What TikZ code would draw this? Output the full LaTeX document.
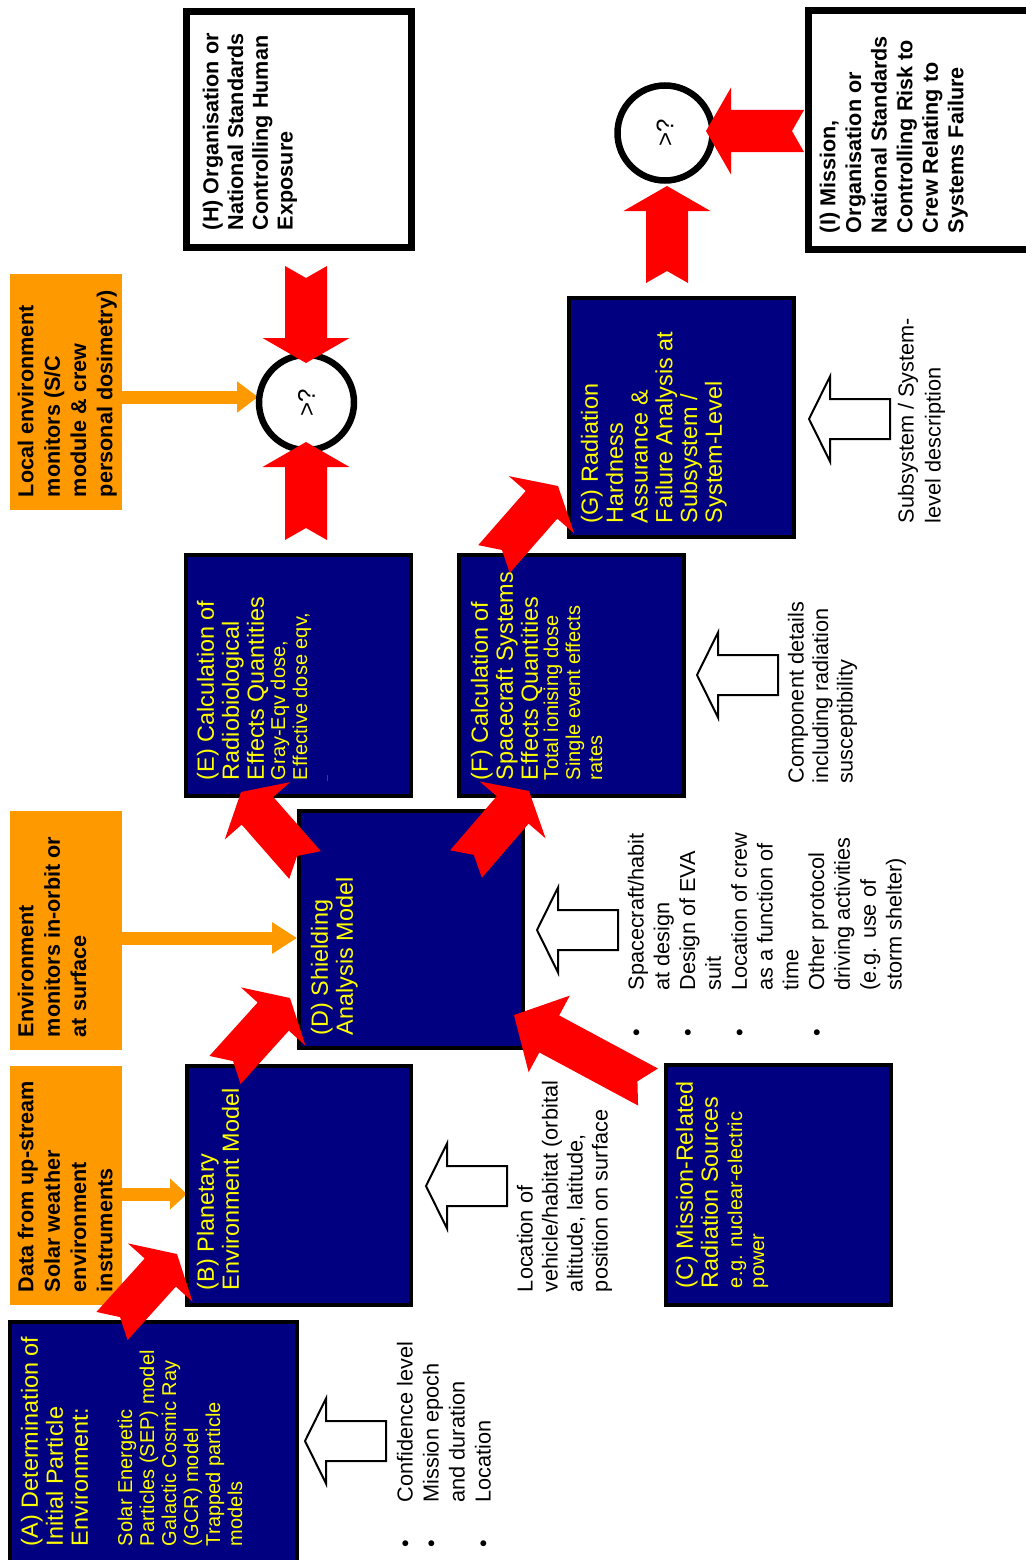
\documentclass[tikz,border=0pt]{standalone}
\usepackage{fontspec}
\setmainfont{Liberation Sans}
\usetikzlibrary{calc,arrows.meta}
\definecolor{navy}{RGB}{0,0,128}
\definecolor{amber}{RGB}{255,153,0}
\definecolor{ylw}{RGB}{255,255,0}
\definecolor{arrowred}{RGB}{255,0,0}
% notched block arrow: #1 tail centre, #2 tip, #3 head depth
\newcommand\blockarrow[3]{%
  \coordinate (blkB) at ($(#2)!#3!(#1)$);
  \coordinate (blkN) at ($(#1)!12pt!(#2)$);
  \fill[arrowred] (#2) -- ($(blkB)!43.5pt!90:(#2)$) -- ($(blkB)!21pt!90:(#2)$)
    -- ($(#1)!21pt!90:(#2)$) -- (blkN) -- ($(#1)!21pt!-90:(#2)$)
    -- ($(blkB)!21pt!-90:(#2)$) -- ($(blkB)!43.5pt!-90:(#2)$) -- cycle;}
% hollow input arrow pointing left, #1 = tip
\newcommand\hollowarrow[1]{%
  \draw[hollow] (#1) -- ++(21,-42.5) -- ++(0,22.5) -- ++(60,0) -- ++(0,40)
    -- ++(-60,0) -- ++(0,22.5) -- cycle;}
\begin{document}
\begin{tikzpicture}[x=1pt,y=-1pt,
  navybox/.style={draw=black, line width=4pt, fill=navy, inner sep=0pt, outer sep=0pt},
  whitebox/.style={draw=black, line width=7pt, fill=white, inner sep=0pt, outer sep=0pt},
  ambox/.style={fill=amber, inner sep=0pt, outer sep=0pt},
  txt/.style={rotate=90, anchor=north west, inner sep=0pt, outer sep=0pt, align=left},
  ttl/.style={txt, text=ylw, font=\fontsize{23.4}{#1}\selectfont},
  ttl/.default=25,
  sub/.style={txt, text=ylw, font=\fontsize{20}{22}\selectfont},
  bold/.style={txt, text=black, font=\bfseries\fontsize{21.6}{#1}\selectfont},
  note/.style={txt, text=black, font=\fontsize{21.7}{#1}\selectfont},
  bul/.style={rotate=90, anchor=north west, inner sep=0pt, outer sep=0pt, text=black, font=\fontsize{21.7}{#1}\selectfont},
  hollow/.style={draw=black, line width=2pt, fill=white, line join=miter},
  orangearrow/.style={draw=amber, line width=13pt, -{Triangle[width=30pt,length=#1]}},
  cmp/.style={circle, draw=black, line width=6.5pt, fill=white, minimum size=95pt, inner sep=0pt,
    rotate=90, font=\fontsize{24}{24}\selectfont}
]
\useasboundingbox (0,0) rectangle (1025,1560);
\fill[white] (0,0) rectangle (1025,1560);

% orange source boxes
\node[ambox, minimum width=112pt, minimum height=236pt] (O1) at (66,392) {};
\node[ambox, minimum width=112pt, minimum height=239pt] (O2) at (66,930.5) {};
\node[ambox, minimum width=112pt, minimum height=239pt] (O3) at (66,1185.5) {};

% orange arrows
\coordinate (oa1) at (258,397);
\coordinate (oa2) at (297,938);
\coordinate (oa3) at (187,1194);
\draw[orangearrow=21pt] (O1.east |- oa1) -- (oa1);
\draw[orangearrow=25pt] (O2.east |- oa2) -- (oa2);
\draw[orangearrow=17pt] (O3.east |- oa3) -- (oa3);

% boxes
\node[navybox, minimum width=287pt, minimum height=242pt] (A) at (153.5,1443) {};
\node[navybox, minimum width=224pt, minimum height=239pt] (B) at (299,1185.5) {};
\node[navybox, minimum width=225pt, minimum height=240pt] (C) at (778.5,1185) {};
\node[navybox, minimum width=224pt, minimum height=237pt] (D) at (411,929.5) {};
\node[navybox, minimum width=225pt, minimum height=241pt] (E) at (298.5,675.5) {};
\node[navybox, minimum width=225pt, minimum height=241pt] (F) at (571.5,675.5) {};
\node[navybox, minimum width=225pt, minimum height=239pt] (G) at (681.5,417.5) {};
\node[whitebox, minimum width=225pt, minimum height=236pt] (H) at (299,129.5) {};
\node[whitebox, minimum width=227pt, minimum height=239pt] (I) at (922,130) {};

% comparison circles
\node[cmp] (c1) at (306.5,402.5) {>?};
\node[cmp] (c2) at (665,133) {>?};

% hollow input arrows
\coordinate (ha) at (305,1441);
\coordinate (hb) at (426,1186);
\coordinate (hd) at (537,930);
\coordinate (hf) at (697,675);
\coordinate (hg) at (809,419);
\hollowarrow{ha}
\hollowarrow{hb}
\hollowarrow{hd}
\hollowarrow{hf}
\hollowarrow{hg}

% texts in orange boxes
\node[bold=26.3] (tO1) at (17.8,497) {Local environment\\monitors (S/C\\module \& crew\\personal dosimetry)};
\node[bold=26.3] (tO2) at (17.8,1037) {Environment\\monitors in-orbit or\\at surface};
\node[bold=26.3] (tO3) at (17.8,1292) {Data from up-stream\\Solar weather\\environment\\instruments};

% standards boxes
\node[bold=24.7] (tH) at (202.8,230) {(H) Organisation or\\National Standards\\Controlling Human\\Exposure};
\node[bold=25.6] (tI) at (819.8,233) {(I) Mission,\\Organisation or\\National Standards\\Controlling Risk to\\Crew Relating to\\Systems Failure};

% navy box texts
\node[ttl] (tA) at (21,1546) {(A) Determination of\\Initial Particle\\Environment:};
\node[sub] (sA) at (117.6,1546) {Solar Energetic\\Particles (SEP) model\\Galactic Cosmic Ray\\(GCR) model\\Trapped particle\\models};
\node[ttl] (tB) at (197,1290) {(B) Planetary\\Environment Model};
\node[ttl] (tC) at (676,1288) {(C) Mission-Related\\Radiation Sources};
\node[sub] (sC) at (727.6,1288) {e.g. nuclear-electric\\power};
\node[ttl] (tD) at (311,1035) {(D) Shielding\\Analysis Model};
\node[ttl] (tE) at (197,780) {(E) Calculation of\\Radiobiological\\Effects Quantities};
\node[sub] (sE) at (270.6,780) {Gray-Eqv dose,\\Effective dose eqv,};
\node[txt, text=ylw, font=\fontsize{7}{7}\selectfont] (dE) at (327,781) {...};
\node[ttl] (tF) at (471,780) {(F) Calculation of\\Spacecraft Systems\\Effects Quantities};
\node[sub] (sF) at (543.6,780) {Total ionising dose\\Single event effects\\rates};
\node[ttl=24.8] (tG) at (581,523) {(G) Radiation\\Hardness\\Assurance \&\\Failure Analysis at\\Subsystem /\\System-Level};

% notes
\node[bul=26] (nA) at (394.4,1547) {\begin{tabular}{@{}l@{\hspace{37pt}}l@{}}
  \textbullet & Confidence level\\
  \textbullet & Mission epoch\\
   & and duration\\
  \textbullet & Location
  \end{tabular}};
\node[note=25] (nB) at (517,1292) {Location of\\vehicle/habitat (orbital\\altitude, latitude,\\position on surface};
\node[bul=25.8] (nD) at (625.5,1036) {\begin{tabular}{@{}l@{\hspace{38pt}}l@{}}
  \textbullet & Spacecraft/habit\\
   & at design\\
  \textbullet & Design of EVA\\
   & suit\\
  \textbullet & Location of crew\\
   & as a function of\\
   & time\\
  \textbullet & Other protocol\\
   & driving activities\\
   & (e.g. use of\\
   & storm shelter)
  \end{tabular}};
\node[note=24.5] (nF) at (788,783) {Component details\\including radiation\\susceptibility};
\node[note=27] (nG) at (898,523) {Subsystem / System-\\level description};

% red flow arrows
\coordinate (rAt) at (112,1326);  \coordinate (rAh) at (177,1254);
\coordinate (rBt) at (225,1070);  \coordinate (rBh) at (290,998);
\coordinate (rCt) at (648,1087);  \coordinate (rCh) at (514,1015);
\coordinate (rDEt) at (305,865);  \coordinate (rDEh) at (241,792);
\coordinate (rDFt) at (466,864);  \coordinate (rDFh) at (529,791);
\coordinate (rFt) at (494,559);   \coordinate (rFh) at (558,486);
\coordinate (rHt) at (306,266);   \coordinate (rHh) at (306,363);
\coordinate (rEt) at (306,540);   \coordinate (rEh) at (306,442);
\coordinate (rGt) at (667,283);   \coordinate (rGh) at (667,186);
\coordinate (rIt) at (804,131);   \coordinate (rIh) at (706,131);
\blockarrow{rAt}{rAh}{25pt}
\blockarrow{rBt}{rBh}{25pt}
\blockarrow{rCt}{rCh}{40pt}
\blockarrow{rDEt}{rDEh}{25pt}
\blockarrow{rDFt}{rDFh}{25pt}
\blockarrow{rFt}{rFh}{25pt}
\blockarrow{rHt}{rHh}{25pt}
\blockarrow{rEt}{rEh}{25pt}
\blockarrow{rGt}{rGh}{25pt}
\blockarrow{rIt}{rIh}{25pt}
\end{tikzpicture}
\end{document}
